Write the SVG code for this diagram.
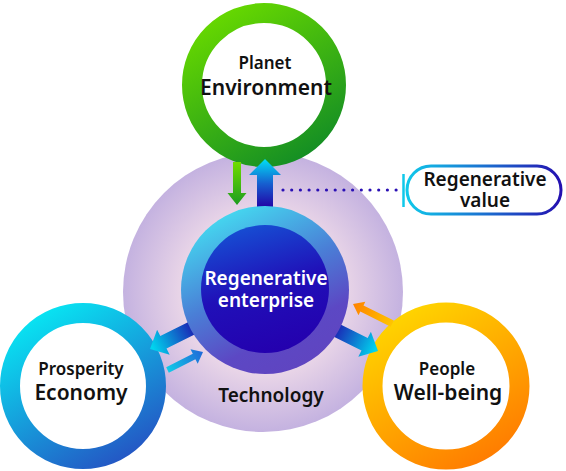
<svg xmlns="http://www.w3.org/2000/svg" width="566" height="471" viewBox="0 0 566 471">
<defs>
<radialGradient id="gBg" cx="0.5" cy="0.5" r="0.5">
<stop offset="0" stop-color="#f8e8ee"/>
<stop offset="0.55" stop-color="#ecd8e8"/>
<stop offset="1" stop-color="#c4b2e0"/>
</radialGradient>
<linearGradient id="gGreen" x1="0.2" y1="0" x2="0.8" y2="1">
<stop offset="0" stop-color="#66d800"/>
<stop offset="1" stop-color="#148e24"/>
</linearGradient>
<linearGradient id="gBlue" x1="0.2" y1="0" x2="0.8" y2="1">
<stop offset="0" stop-color="#08e4f2"/>
<stop offset="1" stop-color="#2456c4"/>
</linearGradient>
<linearGradient id="gOrange" x1="0.2" y1="0" x2="0.8" y2="1">
<stop offset="0" stop-color="#ffd400"/>
<stop offset="1" stop-color="#ff7c00"/>
</linearGradient>
<linearGradient id="gCoreOuter" x1="0.25" y1="0" x2="0.75" y2="1">
<stop offset="0" stop-color="#44e0f2"/>
<stop offset="0.45" stop-color="#4a7ed6"/>
<stop offset="0.75" stop-color="#5c48c4"/>
<stop offset="1" stop-color="#6044c0"/>
</linearGradient>
<linearGradient id="gCoreInner" x1="0.3" y1="0" x2="0.6" y2="1">
<stop offset="0" stop-color="#1650d4"/>
<stop offset="0.5" stop-color="#2010b8"/>
<stop offset="1" stop-color="#2400ae"/>
</linearGradient>
<linearGradient id="gBox" x1="0" y1="0" x2="1" y2="0">
<stop offset="0" stop-color="#10c8ea"/>
<stop offset="0.5" stop-color="#1a70d0"/>
<stop offset="1" stop-color="#2410b0"/>
</linearGradient>
<linearGradient id="gArrL" gradientUnits="userSpaceOnUse" x1="200" y1="322" x2="152" y2="346">
<stop offset="0" stop-color="#2000a8"/>
<stop offset="1" stop-color="#00d4ee"/>
</linearGradient>
<linearGradient id="gArrR" gradientUnits="userSpaceOnUse" x1="328" y1="324" x2="376" y2="348">
<stop offset="0" stop-color="#2000a8"/>
<stop offset="1" stop-color="#00d4ee"/>
</linearGradient>
<linearGradient id="gArrSmL" gradientUnits="userSpaceOnUse" x1="167" y1="370" x2="203" y2="352">
<stop offset="0" stop-color="#10cce8"/>
<stop offset="1" stop-color="#2068d8"/>
</linearGradient>
<linearGradient id="gArrSmR" gradientUnits="userSpaceOnUse" x1="392" y1="323" x2="354" y2="305">
<stop offset="0" stop-color="#ffc400"/>
<stop offset="1" stop-color="#ff8400"/>
</linearGradient>
<linearGradient id="gArrDown" gradientUnits="userSpaceOnUse" x1="0" y1="162" x2="0" y2="205">
<stop offset="0" stop-color="#70dc00"/>
<stop offset="1" stop-color="#1c9c20"/>
</linearGradient>
<linearGradient id="gArrUp" gradientUnits="userSpaceOnUse" x1="0" y1="159" x2="0" y2="208">
<stop offset="0" stop-color="#00e0f4"/>
<stop offset="0.5" stop-color="#1660d0"/>
<stop offset="1" stop-color="#2200a4"/>
</linearGradient>
</defs>
<style>
text{font-family:"Noto Sans","Liberation Sans",sans-serif;font-weight:600;text-anchor:middle;fill:#111}
.sm{font-size:17px}
.lg{font-size:21px}
.core{font-size:19px;fill:#fff}
.mid{font-size:19px}
.ring{fill:#fff;stroke-width:20}
</style>
<rect width="566" height="471" fill="#fff"/>
<g id="technology">
<circle cx="263" cy="292" r="140" fill="url(#gBg)"/>
<text class="mid" x="271" y="402">Technology</text>
</g>
<g id="environment">
<circle class="ring" cx="264" cy="85" r="72" stroke="url(#gGreen)"/>
<text class="sm" x="265" y="69">Planet</text>
<text class="lg" x="266" y="95">Environment</text>
</g>
<g id="economy">
<circle class="ring" cx="83" cy="386" r="73" stroke="url(#gBlue)"/>
<text class="sm" x="81" y="375">Prosperity</text>
<text class="lg" x="81" y="400">Economy</text>
</g>
<g id="wellbeing">
<circle class="ring" cx="446" cy="386" r="73.5" stroke="url(#gOrange)"/>
<text class="sm" x="447" y="375">People</text>
<text class="lg" x="448" y="400">Well-being</text>
</g>
<g id="connectors">
<polygon points="233,162 241,162 241,193 246.5,193 237,205 227.5,193 233,193" fill="url(#gArrDown)"/>
<polygon points="257,212 257,175 249,175 265,159 281,175 273,175 273,212" fill="url(#gArrUp)"/>
<polygon points="150,349 169.7,354.8 166.5,348.6 206.7,328.5 200.5,315.9 160.3,336 157.1,329.8" fill="url(#gArrL)"/>
<polygon points="378,351 358.3,356.8 361.5,350.6 321.3,330.5 327.5,317.9 367.7,338 370.9,331.8" fill="url(#gArrR)"/>
<polygon points="203,352 197.7,363.7 195.4,359.2 168.8,372.7 166.2,367.3 192.8,353.8 190.5,349.3" fill="url(#gArrSmL)"/>
<polygon points="353,304 358.5,315.2 360.3,311.6 390.7,326.8 393.9,320.6 363.5,305.4 365.3,301.8" fill="url(#gArrSmR)"/>
<line x1="283" y1="190" x2="396.5" y2="190" stroke="#2a10b4" stroke-width="3.2" stroke-linecap="round" stroke-dasharray="0 8.7"/>
</g>
<g id="enterprise">
<circle cx="265" cy="290" r="84" fill="url(#gCoreOuter)"/>
<circle cx="265" cy="289" r="64" fill="url(#gCoreInner)"/>
<text class="core" x="266" y="285">Regenerative</text>
<text class="core" x="266" y="307">enterprise</text>
</g>
<g id="regenerative-value">
<rect x="407" y="166" width="154" height="48" rx="24" fill="#fff" stroke="url(#gBox)" stroke-width="3"/>
<line x1="403.5" y1="174" x2="403.5" y2="207" stroke="#10c8ea" stroke-width="2.5"/>
<text class="mid" x="485" y="186">Regenerative</text>
<text class="mid" x="485" y="207">value</text>
</g>
</svg>
